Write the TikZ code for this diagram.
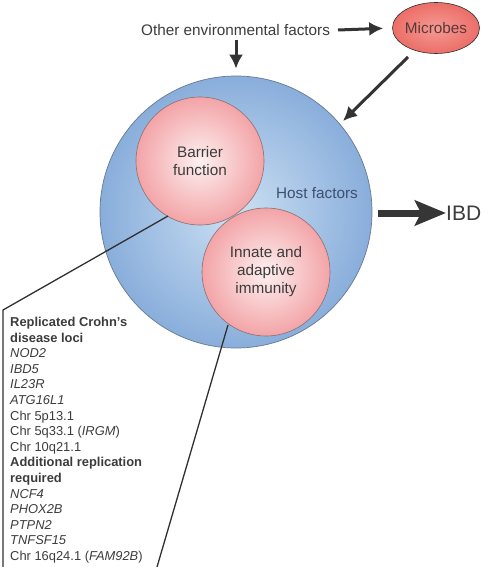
\documentclass[tikz,border=0pt]{standalone}
\usepackage{fontspec}
\setmainfont{Liberation Sans}
\usetikzlibrary{arrows.meta,shapes.geometric}
\definecolor{txt}{HTML}{3C3C3C}
\definecolor{blueout}{HTML}{89AEDB}
\definecolor{bluein}{HTML}{CCE0F3}
\definecolor{pinkout}{HTML}{F3A4A7}
\definecolor{pinkin}{HTML}{FDF0F0}
\definecolor{redout}{HTML}{EC6E68}
\definecolor{redin}{HTML}{F59A93}
\definecolor{rim}{HTML}{6A7890}
\definecolor{pinkrim}{HTML}{8A7070}
\definecolor{hosttxt}{HTML}{3E4F70}
\definecolor{mictxt}{HTML}{5A3838}
\tikzset{
  arr/.style={draw=txt!85!black, line width=3pt, -{Latex[length=14pt,width=14pt]}},
  bigarr/.style={draw=txt!90!black, line width=7pt, -{Stealth[length=31pt,width=25pt,inset=6pt]}},
  lead/.style={draw=txt!80!black, line width=1.3pt},
  lbl/.style={text=txt, font=\fontsize{15.3}{18}\selectfont, align=center, inner sep=0pt},
  pinkc/.style={circle, draw=pinkrim, line width=0.6pt, inner color=pinkin, outer color=pinkout, minimum size=128pt, inner sep=0pt},
}
\begin{document}
\begin{tikzpicture}[x=1pt,y=-1pt]
\useasboundingbox (0,0) rectangle (488,567);
% big circle
\node[circle, draw=rim, line width=0.7pt, inner color=bluein, outer color=blueout, minimum size=272pt, inner sep=0pt] (host) at (236,212) {};
\node[lbl, text=hosttxt] (hostlbl) at (317,193) {Host factors};
% pink circles
\node[pinkc] (barrier) at (200,161) {};
\node[lbl] at (barrier.center) {Barrier\\function};
\node[pinkc] (innate) at (266,272) {};
\node[lbl] at (innate.center) {Innate and\\adaptive\\immunity};
% microbes
\node[ellipse, draw=txt!80!black, line width=0.6pt, inner color=redin, outer color=redout, minimum width=87pt, minimum height=51pt, inner sep=0pt] (mic) at (436,28) {};
\node[lbl, text=mictxt] at (mic.center) {Microbes};
% other environmental factors
\node[lbl, anchor=west] (env) at (141,30) {Other environmental factors};
\coordinate (envR) at (338,30);
\draw[arr, shorten >=9pt] (envR) -- (mic.west);
\coordinate (envD) at (236,40);
\draw[arr, shorten >=7pt] (envD) -- (host.north);
\coordinate (micS) at (408,57);
\coordinate (hostNE) at (343,121);
\draw[arr] (micS) -- (hostNE);
% IBD
\coordinate (ibdS) at (378,213);
\node[text=txt, font=\fontsize{21}{24}\selectfont, anchor=west, inner sep=0pt] (ibd) at (446,213) {IBD};
\draw[bigarr] (ibdS) -- (ibd.west);
% leader lines
\coordinate (b1) at (168,216);
\coordinate (b2) at (3,310);
\coordinate (b3) at (3,567);
\draw[lead] (b1) -- (b2) -- (b3);
\coordinate (i1) at (228,325);
\coordinate (i2) at (157,567);
\draw[lead] (i1) -- (i2);
% gene list
\node[anchor=north west, text=txt, inner sep=0pt, align=left, font=\fontsize{12.9}{15.6}\selectfont] (list) at (10,317) {%
\textbf{Replicated Crohn's}\\
\textbf{disease loci}\\
\textit{NOD2}\\
\textit{IBD5}\\
\textit{IL23R}\\
\textit{ATG16L1}\\
Chr 5p13.1\\
Chr 5q33.1 (\textit{IRGM})\\
Chr 10q21.1\\
\textbf{Additional replication}\\
\textbf{required}\\
\textit{NCF4}\\
\textit{PHOX2B}\\
\textit{PTPN2}\\
\textit{TNFSF15}\\
Chr 16q24.1 (\textit{FAM92B})};
\end{tikzpicture}
\end{document}
